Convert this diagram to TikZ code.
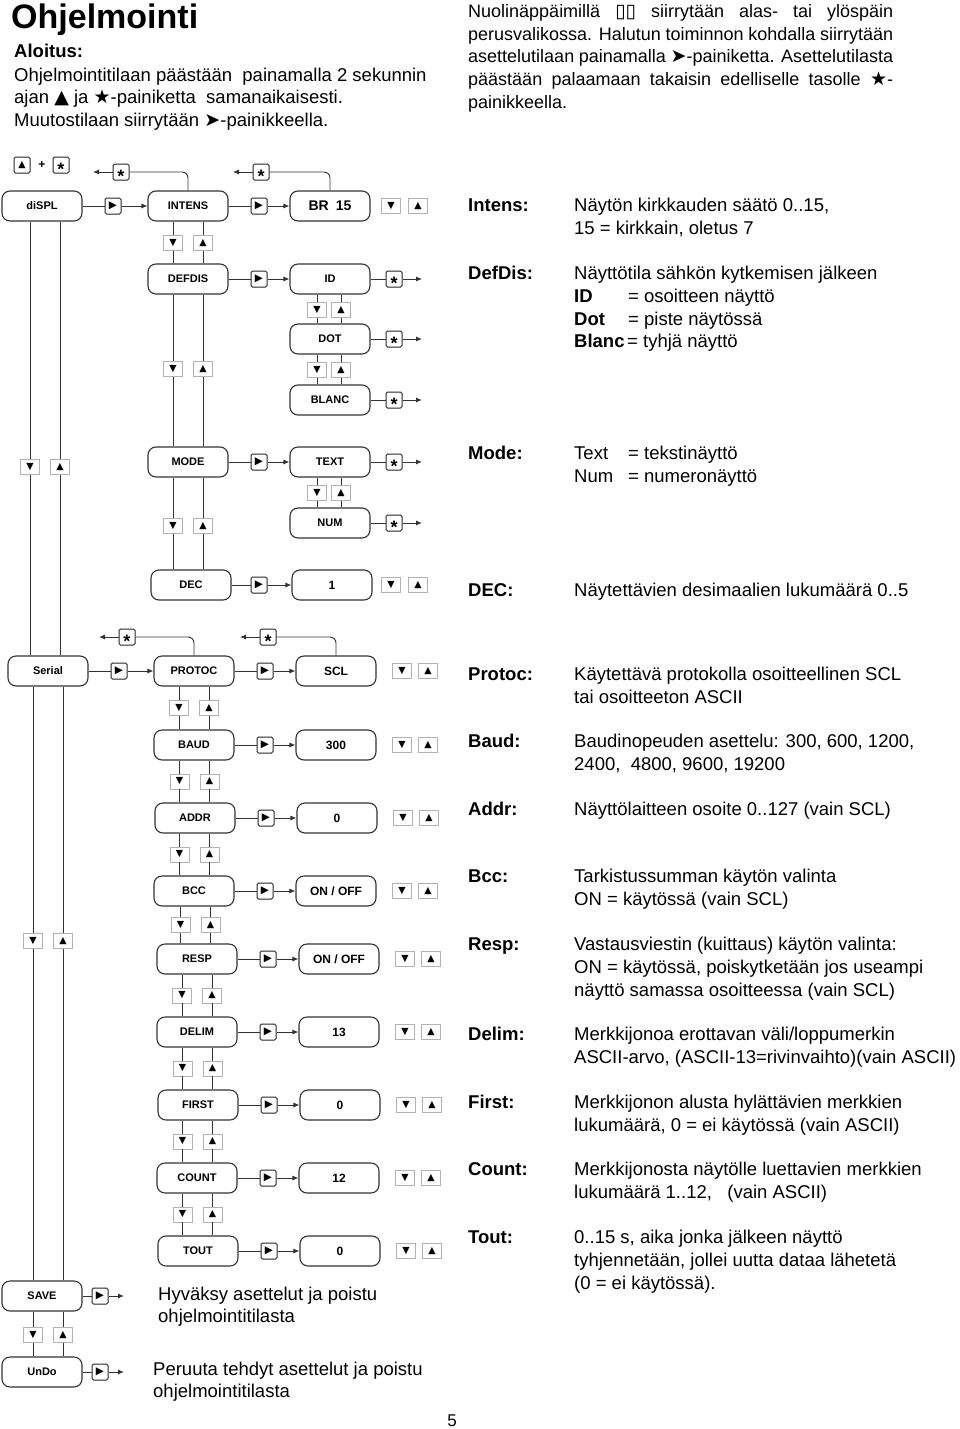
\documentclass[tikz,border=0pt]{standalone}
\usepackage{fontspec}
\setmainfont{Liberation Sans}
\newfontfamily\symfont{DejaVu Sans}
\usetikzlibrary{arrows.meta,calc}

\newcommand{\kdn}{{\symfont\fontsize{9.5}{9.5}\selectfont ▼}}
\newcommand{\kup}{{\symfont\fontsize{9.5}{9.5}\selectfont ▲}}
\newcommand{\kgo}{{\symfont\fontsize{10.5}{10.5}\selectfont ▶}}
\newcommand{\kst}{\raisebox{-10pt}[0pt][0pt]{\fontsize{18}{18}\selectfont\bfseries *}}
\newcommand{\sy}[1]{{\symfont\fontsize{19}{19}\selectfont #1}}

\begin{document}
\begin{tikzpicture}[x=1pt, y=-1pt,
    menu/.style={rectangle, draw=black!80, rounded corners=8pt, minimum width=80pt,
                 minimum height=30pt, inner sep=0pt, line width=1.1pt,
                 font=\fontsize{11}{12}\selectfont\bfseries},
    val/.style={menu, font=\fontsize{12}{13}\selectfont\bfseries},
    key/.style={rectangle, draw=black!85, rounded corners=1.5pt, minimum width=16pt,
                minimum height=16pt, inner sep=0pt, line width=1pt, fill=white},
    nav/.style={rectangle, draw=black!30, minimum width=19pt, minimum height=15pt,
                inner sep=0pt, line width=0.9pt, fill=white},
    wire/.style={draw=black!80, line width=0.9pt},
    arrow/.style={wire, -{Latex[length=6pt,width=5pt]}},
    back/.style={wire, rounded corners=6pt},
    txt/.style={inner sep=0pt, anchor=base west, font=\fontsize{18.5}{22.7}\selectfont},
    lbl/.style={txt, font=\fontsize{18.5}{22.7}\selectfont\bfseries},
    desc/.style={txt, align=left, anchor=north west, yshift=15.89pt},
    help/.style={txt, font=\fontsize{18}{22.5}\selectfont},
]
    \useasboundingbox (0,0) rectangle (960,1429);

    % header texts
    \node[txt, font=\fontsize{34}{36}\selectfont\bfseries] (title) at (11,29) {Ohjelmointi};
    \node[lbl] (start) at (14,58) {Aloitus:};
    \node[desc] (starttxt) at (14,81) {\strut Ohjelmointitilaan päästään \ painamalla 2 sekunnin\\
        ajan \sy{▲} ja \sy{★}-painiketta \ samanaikaisesti.\\
        Muutostilaan siirrytään \sy{➤}-painikkeella.};
    \node[help] (help1) at (468,18) {\makebox[425pt][s]{Nuolinäppäimillä \sy{▯▯} siirrytään alas- tai ylöspäin}};
    \node[help] (help2) at (468,40.5) {\makebox[425pt][s]{perusvalikossa. Halutun toiminnon kohdalla siirrytään}};
    \node[help] (help3) at (468,63) {\makebox[425pt][s]{asettelutilaan painamalla \sy{➤}-painiketta. Asettelutilasta}};
    \node[help] (help4) at (468,85.5) {\makebox[425pt][s]{päästään palaamaan takaisin edelliselle tasolle \sy{★}-}};
    \node[help] (help5) at (468,108) {painikkeella.};

    % entry keys
    \node[key] (entup) at (22,165) {\kup};
    \node[inner sep=0pt, font=\fontsize{12}{12}\selectfont\bfseries] (plus) at (42,165) {+};
    \node[key] (entst) at (61,165) {\kst};

    % display menu
    \node[menu] (displ) at (42,206) {diSPL};
    \node[menu] (intens) at (188,206) {INTENS};
    \node[menu, font=\fontsize{14}{15}\selectfont\bfseries] (br) at (330,206) {BR\enspace 15};
    \node[menu] (defdis) at (188,279) {DEFDIS};
    \node[menu] (id) at (330,279) {ID};
    \node[menu] (dot) at (330,339) {DOT};
    \node[menu] (blanc) at (330,400) {BLANC};
    \node[menu] (mode) at (188,462) {MODE};
    \node[menu] (text) at (330,462) {TEXT};
    \node[menu] (num) at (330,523) {NUM};
    \node[menu] (dec) at (191,585) {DEC};
    \node[val] (decv) at (332,585) {1};
    \node[menu] (serial) at (48,671) {Serial};
    \node[menu] (save) at (42,1296) {SAVE};
    \node[menu] (undo) at (42,1372) {UnDo};

    \foreach \a/\b/\x/\y [count=\i] in {displ/intens/113/206, intens/br/259/206,
        defdis/id/259/279, mode/text/259/462, dec/decv/259/585} {
        \node[key] (go\i) at (\x,\y) {\kgo};
        \draw[wire] (\a) -- (go\i);
        \draw[arrow] (go\i) -- (\b);
    }
    \node[nav] (brd) at (391,206) {\kdn};
    \node[nav] (bru) at (418,206) {\kup};
    \node[nav] (decd) at (391,585) {\kdn};
    \node[nav] (decu) at (418,585) {\kup};

    % star keys on the right
    \foreach \s/\y in {id/279, dot/339, blanc/400, text/462, num/523} {
        \node[key] (st\s) at (394,\y) {\kst};
        \coordinate (end\s) at (422,\y);
        \draw[wire] (\s) -- (st\s);
        \draw[arrow] (st\s) -- (end\s);
    }

    % serial menu
    \foreach \n/\v/\x/\y [count=\i] in {PROTOC/SCL/194/671, BAUD/300/194/745,
        ADDR/0/195/818, BCC/{ON / OFF}/194/891, RESP/{ON / OFF}/197/959,
        DELIM/13/197/1032, FIRST/0/198/1105, COUNT/12/197/1178, TOUT/0/198/1251} {
        \node[menu] (m\i) at (\x,\y) {\n};
        \node[key] (g\i) at (\x+71,\y) {\kgo};
        \node[val] (v\i) at (\x+142,\y) {\v};
        \node[nav] (d\i) at (\x+208,\y) {\kdn};
        \node[nav] (u\i) at (\x+234,\y) {\kup};
        \draw[wire] (m\i) -- (g\i);
        \draw[arrow] (g\i) -- (v\i);
    }
    \node[key] (gs) at (119,671) {\kgo};
    \draw[wire] (serial) -- (gs);
    \draw[arrow] (gs) -- (m1);

    \foreach \i [evaluate=\i as \j using int(\i+1)] in {1,...,8} {
        \coordinate (c\i) at ($(m\i.south)!.5!(m\j.north)$);
        \node[nav] (nd\i) at ($(c\i)+(-15,0)$) {\kdn};
        \node[nav] (nu\i) at ($(c\i)+(15,0)$) {\kup};
        \draw[wire] (nd\i) -- (nd\i |- m\i.south) (nd\i) -- (nd\i |- m\j.north);
        \draw[wire] (nu\i) -- (nu\i |- m\i.south) (nu\i) -- (nu\i |- m\j.north);
    }

    % up / down between menus
    \foreach \a/\b/\xd/\xu/\y [count=\k] in {intens/defdis/173/203/243,
        defdis/mode/173/203/369, mode/dec/173/203/526, id/dot/317/341/310,
        dot/blanc/317/341/370, text/num/317/341/493, displ/serial/30/60/467,
        serial/save/33/63/941, save/undo/33/63/1335} {
        \node[nav] (vd\k) at (\xd,\y) {\kdn};
        \node[nav] (vu\k) at (\xu,\y) {\kup};
        \draw[wire] (vd\k) -- (vd\k |- \a.south) (vd\k) -- (vd\k |- \b.north);
        \draw[wire] (vu\k) -- (vu\k |- \a.south) (vu\k) -- (vu\k |- \b.north);
    }

    % back with star
    \foreach \a/\x/\y [count=\i] in {intens/121/172, br/261/172, m1/127/637, v1/268/637} {
        \node[key] (bk\i) at (\x,\y) {\kst};
        \coordinate (bkend\i) at (\x-28,\y);
        \draw[back] (\a.north) |- (bk\i);
        \draw[arrow] (bk\i) -- (bkend\i);
    }

    % save / undo
    \node[key] (gsave) at (100,1296) {\kgo};
    \node[key] (gundo) at (100,1372) {\kgo};
    \coordinate (endsave) at (124,1296);
    \coordinate (endundo) at (124,1372);
    \draw[wire] (save) -- (gsave);
    \draw[arrow] (gsave) -- (endsave);
    \draw[wire] (undo) -- (gundo);
    \draw[arrow] (gundo) -- (endundo);
    \node[desc] (savetxt) at (158,1300)
        {\strut Hyväksy asettelut ja poistu\\ohjelmointitilasta};
    \node[desc] (undotxt) at (153,1375)
        {\strut Peruuta tehdyt asettelut ja poistu\\ohjelmointitilasta};

    % descriptions
    \foreach \t/\y [count=\i] in {Intens:/211.5, DefDis:/279.5, Mode:/459.5, DEC:/596.5,
        Protoc:/680.5, Baud:/747.5, Addr:/815.5, Bcc:/882.5, Resp:/950.5,
        Delim:/1040.5, First:/1108.5, Count:/1175.5, Tout:/1243.5}
        \node[lbl] (lab\i) at (468,\y) {\t};
    \node[desc] (dintens) at (574,211.5) {\strut Näytön kirkkauden säätö 0..15,\\15 = kirkkain, oletus 7};
    \node[desc] (ddefdis) at (574,279.5) {\strut Näyttötila sähkön kytkemisen jälkeen\\
        \makebox[54pt][l]{\textbf{ID}}= osoitteen näyttö\\
        \makebox[54pt][l]{\textbf{Dot}}= piste näytössä\\
        \makebox[53pt][l]{\textbf{Blanc}}= tyhjä näyttö};
    \node[desc] (dmode) at (574,459.5) {\strut\makebox[54pt][l]{Text}= tekstinäyttö\\
        \makebox[54pt][l]{Num}= numeronäyttö};
    \node[desc] (ddec) at (574,596.5) {\strut Näytettävien desimaalien lukumäärä 0..5};
    \node[desc] (dprotoc) at (574,680.5) {\strut Käytettävä protokolla osoitteellinen SCL\\tai osoitteeton ASCII};
    \node[desc] (dbaud) at (574,747.5) {\strut Baudinopeuden asettelu: 300, 600, 1200,\\2400, \ 4800, 9600, 19200};
    \node[desc] (daddr) at (574,815.5) {\strut Näyttölaitteen osoite 0..127 (vain SCL)};
    \node[desc] (dbcc) at (574,882.5) {\strut Tarkistussumman käytön valinta\\ON = käytössä (vain SCL)};
    \node[desc] (dresp) at (574,950.5) {\strut Vastausviestin (kuittaus) käytön valinta:\\
        ON = käytössä, poiskytketään jos useampi\\näyttö samassa osoitteessa (vain SCL)};
    \node[desc] (ddelim) at (574,1040.5) {\strut Merkkijonoa erottavan väli/loppumerkin\\
        ASCII-arvo, (ASCII-13=rivinvaihto)(vain ASCII)};
    \node[desc] (dfirst) at (574,1108.5) {\strut Merkkijonon alusta hylättävien merkkien\\
        lukumäärä, 0 = ei käytössä (vain ASCII)};
    \node[desc] (dcount) at (574,1175.5) {\strut Merkkijonosta näytölle luettavien merkkien\\
        lukumäärä 1..12, \ \ (vain ASCII)};
    \node[desc] (dtout) at (574,1243.5) {\strut 0..15 s, aika jonka jälkeen näyttö\\
        tyhjennetään, jollei uutta dataa lähetetä\\(0 = ei käytössä).};

    \node[txt, anchor=base, font=\fontsize{17}{20}\selectfont] (page) at (452,1426) {5};
\end{tikzpicture}
\end{document}
